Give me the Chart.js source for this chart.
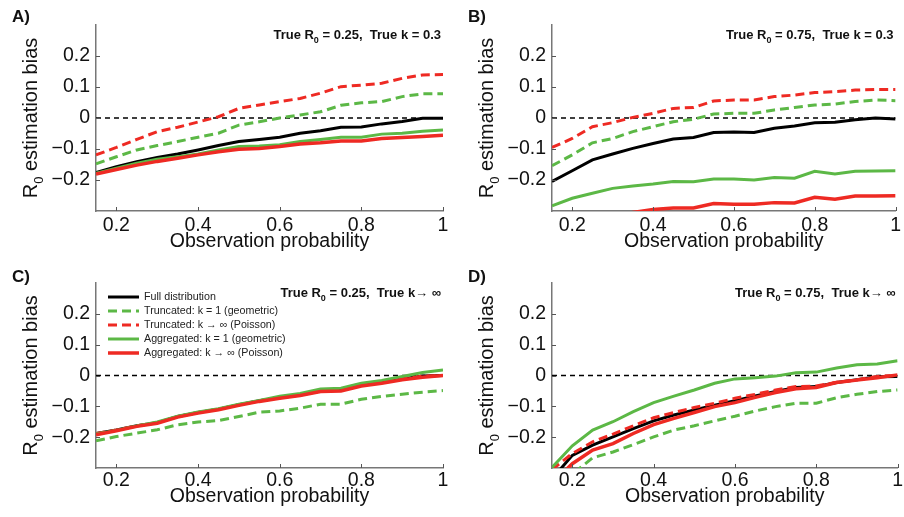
<!DOCTYPE html>
<html><head><meta charset="utf-8">
<script src="https://cdn.jsdelivr.net/npm/chart.js@4.4.1/dist/chart.umd.min.js"></script>
<style>
html,body{margin:0;padding:0;background:#fff;}
#wrap{position:relative;width:904px;height:517px;overflow:hidden;background:#fff;}
canvas{position:absolute;}
</style></head><body>
<div id="wrap">
<canvas id="cA" width="452" height="258" style="left:0;top:0"></canvas>
<canvas id="cB" width="452" height="258" style="left:452px;top:0"></canvas>
<canvas id="cC" width="452" height="259" style="left:0;top:258px"></canvas>
<canvas id="cD" width="452" height="259" style="left:452px;top:258px"></canvas>
</div>
<script>
// ---------- data ----------
const observationProbability = [0.15,0.2,0.25,0.3,0.35,0.4,0.45,0.5,0.55,0.6,0.65,0.7,0.75,0.8,0.85,0.9,0.95,1.0];
const xRange = [0.15, 1];
const yRange = [-0.3, 0.3];
const xTickValues = [0.2, 0.4, 0.6, 0.8, 1];
const xTickLabels = ['0.2', '0.4', '0.6', '0.8', '1'];
const yTickValues = [-0.2, -0.1, 0, 0.1, 0.2];
const yTickLabels = ['\u22120.2', '\u22120.1', '0', '0.1', '0.2'];
const zeroLine = [0, 0];
const seriesNames = ['Full distribution', 'Truncated: k = 1 (geometric)', 'Truncated: k \u2192 \u221E (Poisson)', 'Aggregated: k = 1 (geometric)', 'Aggregated: k \u2192 \u221E (Poisson)'];

// Panel A: True R0 = 0.25, True k = 0.3
const aFull      = [-0.176,-0.157,-0.141,-0.127,-0.116,-0.103,-0.089,-0.076,-0.069,-0.062,-0.049,-0.041,-0.030,-0.029,-0.019,-0.011,-0.001,-0.001];
const aTruncGeom = [-0.148,-0.125,-0.103,-0.089,-0.076,-0.062,-0.049,-0.023,-0.012,0.000,0.010,0.020,0.041,0.049,0.053,0.069,0.078,0.078];
const aTruncPois = [-0.119,-0.095,-0.069,-0.044,-0.030,-0.013,0.004,0.031,0.042,0.053,0.063,0.080,0.101,0.106,0.112,0.128,0.139,0.140];
const aAggGeom   = [-0.178,-0.162,-0.146,-0.133,-0.125,-0.116,-0.103,-0.092,-0.090,-0.086,-0.076,-0.069,-0.062,-0.062,-0.052,-0.049,-0.043,-0.039];
const aAggPois   = [-0.181,-0.166,-0.152,-0.140,-0.130,-0.119,-0.109,-0.101,-0.098,-0.092,-0.084,-0.080,-0.074,-0.074,-0.066,-0.063,-0.060,-0.056];

// Panel B: True R0 = 0.75, True k = 0.3
const bFull      = [-0.205,-0.170,-0.135,-0.116,-0.098,-0.082,-0.068,-0.063,-0.047,-0.045,-0.047,-0.033,-0.026,-0.015,-0.014,-0.006,0.000,-0.003];
const bTruncGeom = [-0.154,-0.119,-0.080,-0.066,-0.044,-0.028,-0.012,-0.004,0.013,0.015,0.015,0.026,0.034,0.042,0.045,0.053,0.058,0.056];
const bTruncPois = [-0.095,-0.066,-0.028,-0.015,0.002,0.015,0.031,0.034,0.055,0.058,0.058,0.069,0.074,0.082,0.085,0.090,0.092,0.092];
const bAggGeom   = [-0.283,-0.259,-0.243,-0.227,-0.219,-0.213,-0.205,-0.206,-0.197,-0.197,-0.200,-0.192,-0.194,-0.172,-0.181,-0.172,-0.171,-0.170];
const bAggPois   = [-0.360,-0.340,-0.325,-0.315,-0.305,-0.295,-0.290,-0.290,-0.276,-0.278,-0.278,-0.273,-0.274,-0.256,-0.262,-0.252,-0.252,-0.251];

// Panel C: True R0 = 0.25, True k -> inf
const cFull      = [-0.188,-0.177,-0.163,-0.153,-0.133,-0.120,-0.109,-0.095,-0.082,-0.072,-0.063,-0.050,-0.048,-0.032,-0.022,-0.011,-0.002,0.000];
const cTruncGeom = [-0.212,-0.198,-0.187,-0.176,-0.160,-0.151,-0.146,-0.133,-0.119,-0.115,-0.106,-0.093,-0.093,-0.077,-0.068,-0.061,-0.054,-0.049];
const cTruncPois = [-0.188,-0.177,-0.163,-0.153,-0.133,-0.120,-0.109,-0.095,-0.082,-0.072,-0.063,-0.050,-0.048,-0.032,-0.022,-0.011,-0.002,0.000];
const cAggGeom   = [-0.190,-0.178,-0.164,-0.151,-0.132,-0.118,-0.108,-0.093,-0.081,-0.067,-0.058,-0.044,-0.041,-0.025,-0.016,-0.003,0.010,0.018];
const cAggPois   = [-0.192,-0.179,-0.165,-0.155,-0.135,-0.122,-0.111,-0.097,-0.084,-0.074,-0.065,-0.052,-0.050,-0.034,-0.025,-0.014,-0.006,0.000];

// Panel D: True R0 = 0.75, True k -> inf
const dFull      = [-0.335,-0.259,-0.226,-0.199,-0.172,-0.147,-0.128,-0.112,-0.096,-0.082,-0.066,-0.052,-0.039,-0.036,-0.023,-0.014,-0.004,-0.003];
const dTruncGeom = [-0.370,-0.320,-0.267,-0.248,-0.224,-0.199,-0.177,-0.163,-0.147,-0.132,-0.115,-0.101,-0.090,-0.090,-0.072,-0.061,-0.052,-0.047];
const dTruncPois = [-0.305,-0.253,-0.215,-0.190,-0.163,-0.137,-0.120,-0.104,-0.090,-0.074,-0.061,-0.047,-0.036,-0.034,-0.022,-0.014,-0.003,0.000];
const dAggGeom   = [-0.298,-0.228,-0.177,-0.150,-0.117,-0.088,-0.067,-0.047,-0.025,-0.011,-0.007,-0.002,0.009,0.011,0.024,0.035,0.037,0.048];
const dAggPois   = [-0.350,-0.286,-0.242,-0.221,-0.188,-0.159,-0.139,-0.120,-0.101,-0.088,-0.071,-0.055,-0.043,-0.039,-0.023,-0.015,-0.007,0.002];

// ---------- styling ----------
const FONT = '"Liberation Sans", Arial, Helvetica, sans-serif';
const BLACK = '#000000', GREEN = '#5cb846', RED = '#ee2a23';
const styles = [
  {color: BLACK, width: 3,   dash: [],     order: 5},
  {color: GREEN, width: 3,   dash: [9, 5], order: 4},
  {color: RED,   width: 3,   dash: [9, 5], order: 3},
  {color: GREEN, width: 3,   dash: [],     order: 2},
  {color: RED,   width: 3.5, dash: [],     order: 1}
];

const decorPlugin = {
  id: 'decor',
  afterDatasetsDraw(chart, args, o) {
    const ctx = chart.ctx, ca = chart.chartArea;
    const xs = chart.scales.x, ys = chart.scales.y;
    ctx.save();
    // inward tick marks
    ctx.strokeStyle = '#555'; ctx.lineWidth = 1;
    ctx.beginPath();
    xTickValues.forEach(v => { const px = Math.round(xs.getPixelForValue(v)) + 0.5; ctx.moveTo(px, ca.bottom); ctx.lineTo(px, ca.bottom - 4); });
    yTickValues.forEach(v => { const py = Math.round(ys.getPixelForValue(v)) + 0.5; ctx.moveTo(ca.left, py); ctx.lineTo(ca.left + 4, py); });
    ctx.stroke();

    ctx.fillStyle = '#111';
    ctx.textBaseline = 'alphabetic';
    // panel letter
    ctx.font = 'bold 17px ' + FONT;
    ctx.textAlign = 'left';
    ctx.fillText(o.letter, ca.left - 84, ca.top + o.letterDy);

    // annotation (right aligned, subscript 0)
    const aMain = 'bold 13px ' + FONT, aSub = 'bold 9px ' + FONT;
    ctx.font = aMain; const w1 = ctx.measureText(o.annPre).width; const w3 = ctx.measureText(o.annPost).width;
    ctx.font = aSub; const w2 = ctx.measureText('0').width;
    let ax = ca.right - 2 - (w1 + w2 + w3); const ay = ca.top + 14;
    ctx.font = aMain; ctx.fillText(o.annPre, ax, ay);
    ctx.font = aSub; ctx.fillText('0', ax + w1, ay + 4);
    ctx.font = aMain; ctx.fillText(o.annPost, ax + w1 + w2, ay);

    // y-axis title with subscript
    ctx.save();
    ctx.translate(ca.left - 59, (ca.top + ca.bottom) / 2);
    ctx.rotate(-Math.PI / 2);
    const tMain = '20px ' + FONT, tSub = '13px ' + FONT;
    ctx.font = tMain; const r1 = ctx.measureText('R').width; const r3 = ctx.measureText(' estimation bias').width;
    ctx.font = tSub; const r2 = ctx.measureText('0').width;
    const start = -(r1 + r2 + r3) / 2;
    ctx.fillStyle = '#111';
    ctx.font = tMain; ctx.fillText('R', start, 0);
    ctx.font = tSub; ctx.fillText('0', start + r1, 6);
    ctx.font = tMain; ctx.fillText(' estimation bias', start + r1 + r2, 0);
    ctx.restore();

    // legend
    if (o.legend) {
      ctx.font = '10.7px ' + FONT;
      ctx.textBaseline = 'middle';
      seriesNames.forEach((name, i) => {
        const ds = chart.data.datasets[i];
        const y = ca.top + 14 + i * 14;
        ctx.strokeStyle = ds.borderColor; ctx.lineWidth = ds.borderWidth;
        ctx.setLineDash(ds.borderDash || []);
        ctx.beginPath(); ctx.moveTo(ca.left + 12, y); ctx.lineTo(ca.left + 43, y); ctx.stroke();
        ctx.setLineDash([]);
        ctx.fillStyle = '#222';
        ctx.fillText(name, ca.left + 48, y);
      });
    }
    ctx.restore();
  }
};

function makePanel(id, series, p) {
  const datasets = series.map((vals, i) => ({
    label: seriesNames[i],
    data: observationProbability.map((x, j) => ({x: x, y: vals[j]})),
    borderColor: styles[i].color,
    borderWidth: styles[i].width,
    borderDash: styles[i].dash,
    order: styles[i].order,
    pointRadius: 0,
    tension: 0,
    fill: false,
    clip: 0
  }));
  datasets.push({
    label: 'zero',
    data: xRange.map((x, j) => ({x: x, y: zeroLine[j]})),
    borderColor: '#000', borderWidth: 1.5, borderDash: [5, 4],
    order: 6, pointRadius: 0, fill: false, clip: 0
  });
  return new Chart(document.getElementById(id), {
    type: 'line',
    data: {datasets},
    plugins: [decorPlugin],
    options: {
      responsive: false, animation: false, devicePixelRatio: 1,
      layout: {padding: {left: 0, top: 25, right: p.right, bottom: p.bottom}},
      plugins: {
        legend: {display: false}, tooltip: {enabled: false},
        decor: {letter: p.letter, letterDy: p.letterDy, annPre: 'True R', annPost: p.annPost, legend: p.legend}
      },
      scales: {
        x: {
          type: 'linear', min: xRange[0], max: xRange[1],
          afterBuildTicks: s => { s.ticks = xTickValues.map(v => ({value: v})); },
          afterFit: s => { s.height = p.xh; },
          grid: {display: false, drawTicks: false},
          border: {display: true, color: '#777', width: 1.5},
          ticks: {padding: p.xpad, color: '#111', font: {family: FONT, size: 19.5}, maxRotation: 0,
                  callback: (v, i) => xTickLabels[i]},
          title: {display: true, text: 'Observation probability', color: '#111',
                  font: {family: FONT, size: 19.5}, padding: {top: 0, bottom: 0}}
        },
        y: {
          type: 'linear', min: yRange[0], max: yRange[1],
          afterBuildTicks: s => { s.ticks = yTickValues.map(v => ({value: v})); },
          afterFit: s => { s.width = p.yw; },
          grid: {display: false, drawTicks: false},
          border: {display: true, color: '#777', width: 1.5},
          ticks: {padding: 6, color: '#111', font: {family: FONT, size: 19.5},
                  callback: (v, i) => yTickLabels[i]}
        }
      }
    }
  });
}

makePanel('cA', [aFull, aTruncGeom, aTruncPois, aAggGeom, aAggPois],
  {letter: 'A)', letterDy: -3, annPost: ' = 0.25,  True k = 0.3', legend: false, right: 9, bottom: 5, xh: 42, yw: 96, xpad: 3});
makePanel('cB', [bFull, bTruncGeom, bTruncPois, bAggGeom, bAggPois],
  {letter: 'B)', letterDy: -3, annPost: ' = 0.75,  True k = 0.3', legend: false, right: 3, bottom: 5, xh: 42, yw: 100, xpad: 3});
makePanel('cC', [cFull, cTruncGeom, cTruncPois, cAggGeom, cAggPois],
  {letter: 'C)', letterDy: -1, annPost: ' = 0.25,  True k\u2192 \u221E', legend: true, right: 9, bottom: 9, xh: 40, yw: 96, xpad: 1});
makePanel('cD', [dFull, dTruncGeom, dTruncPois, dAggGeom, dAggPois],
  {letter: 'D)', letterDy: -1, annPost: ' = 0.75,  True k\u2192 \u221E', legend: false, right: 3, bottom: 9, xh: 40, yw: 100, xpad: 1});
</script>
</body></html>
